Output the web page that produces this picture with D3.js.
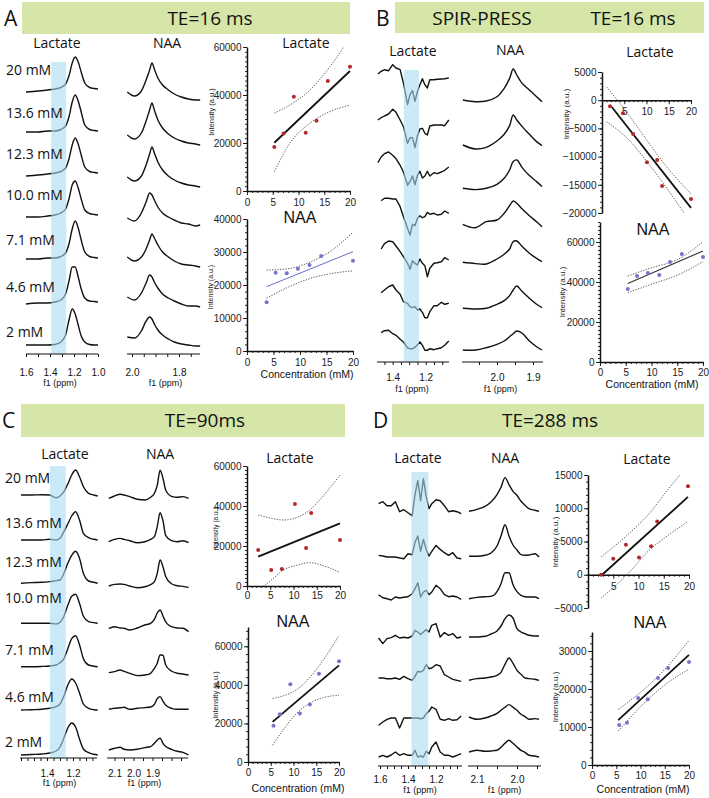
<!DOCTYPE html>
<html>
<head>
<meta charset="utf-8">
<title>Lactate and NAA phantom spectra at different TE</title>
<script src="https://d3js.org/d3.v7.min.js"></script>
<style>
  body { margin: 0; background: #fff; }
  svg { display: block; }
</style>
</head>
<body>
<svg id="fig"></svg>
<script>
// ---------- labels ----------
const concLabels = ["20 mM", "13.6 mM", "12.3 mM", "10.0 mM", "7.1 mM", "4.6 mM", "2 mM"];
const bannerA = ["TE=16 ms"];
const bannerB = ["SPIR-PRESS", "TE=16 ms"];
const bannerC = ["TE=90ms"];
const bannerD = ["TE=288 ms"];

// ---------- spectra (ppm grid + trace heights above each baseline) ----------
// A, TE=16 ms
const aLacPpm = [1.60, 1.50, 1.42, 1.36, 1.31, 1.27, 1.24, 1.215, 1.19, 1.165, 1.14, 1.11, 1.07, 1.03, 1.00];
const aLacTraces = [
  [-3, -2, -1, 0, 1.5, 5, 14, 26, 32, 27, 17, 6, 1.5, 0.5, 0],
  [-1, -1, 0, 0, 1.5, 5, 15, 29, 36, 30, 19, 6, 1.5, 0.5, 0],
  [-3, -2, -1, 0, 1.5, 5, 15, 28, 35, 29, 18, 6, 1.5, 0.5, 0],
  [-2, -2, -1, 0, 2, 6, 17, 30, 34, 27, 16, 5, 1.5, 0.5, 0],
  [-1, -1, 0, 0, 1.5, 5, 15, 29, 37, 30, 18, 6, 1.5, 0.5, 0],
  [-2, -1, -1, 0, 2, 8, 22, 35, 35, 25, 13, 4, 1, 0.5, 0],
  [0, 0, 0, 0.5, 3, 10, 26, 36, 31, 20, 9, 3, 0.5, 0, 0]
];
const aNaaPpm = [2.02, 1.99, 1.96, 1.94, 1.925, 1.915, 1.905, 1.89, 1.87, 1.845, 1.82, 1.79, 1.76, 1.73, 1.71];
const aNaaTraces = [
  [8, 4, 9, 20, 30, 37, 31, 22, 15, 10, 6, 3, 1, 0, 0],
  [10, 6, 12, 24, 35, 42, 35, 25, 17, 11, 7, 4, 2, 1, 0],
  [10, 6, 11, 22, 33, 40, 34, 25, 17, 11, 7, 4, 2, 1, 0],
  [8, 5, 13, 24, 33, 31, 26, 19, 13, 9, 6, 3, 2, 0, 1],
  [10, 6, 10, 18, 27, 33, 29, 22, 15, 10, 6, 3, 2, 1, 0],
  [10, 7, 14, 24, 32, 30, 25, 19, 13, 9, 6, 3, 1, 1, 0],
  [9, 8, 15, 25, 29, 27, 22, 16, 11, 7, 4, 2, 1, 0, 0]
];

// B, SPIR-PRESS TE=16 ms
const bLacPpm = [1.49, 1.47, 1.45, 1.425, 1.40, 1.38, 1.355, 1.335, 1.31, 1.295, 1.28, 1.265, 1.25, 1.235, 1.22, 1.205, 1.19, 1.175, 1.15, 1.13, 1.105, 1.085, 1.06];
const bLacTraces = [
  [4, 6.7, 8.3, 7.3, 13.3, 10, 8.3, -5, -26.7, -16.7, -12.7, -23.3, -13.3, -6.7, -0.7, -6.7, -10, -1.7, -1.7, -1.3, -1, -0.7, 0],
  [5, 7.3, 9, 11, 15.7, 12.7, 5, -1.7, -18.3, -12.7, -12.7, -22.7, -10.7, -4, -3.3, -8.3, -10, -1, 0, 0, 0, -0.7, 5],
  [9.3, 15, 18.3, 20, 16.7, 13.3, 6.7, 0, -13.3, -9.3, -4, -12.7, -3.3, 0.7, -6, -4, 0.7, -4, -0.7, -1.7, 0, 1.7, 5],
  [null, 14.3, 16.7, 16.7, 16, 16, 8.3, -1.7, -13.3, -20, -9.3, -10.7, -3.3, -0.7, -2.7, -1.7, 2.7, 0.7, 1.7, 0, 0.7, 4, 1.7],
  [null, 11, 16.3, 19, 18.3, 14, 8.3, 3.3, -3.3, -9.3, -0.7, -3.3, -5, 1, -3.3, -5.7, -16.7, -8.3, -3.3, -2.7, -1.7, 2.3, 0],
  [null, 12.3, 15, 18.3, 20, 15, 10.7, 3.3, 1.7, -1.7, -2.7, -1.7, -5, -4, -7.3, -12.7, -12.7, -6.7, -0.7, -0.7, 2.7, 0.7, 1.7],
  [null, 14.3, 16.3, 16.7, 13.3, 11.7, 7.7, 5, -1, -1.7, -1.7, -0.3, 2.3, 5, 1.7, -3.3, -3.3, -1.7, -2.7, -1.7, -0.7, 1.7, 6]
];
const bNaaPpm = [2.095, 2.06, 2.03, 2.00, 1.98, 1.965, 1.955, 1.945, 1.93, 1.91, 1.89, 1.875];
const bNaaTraces = [
  [1.7, 0, 0.7, 5, 13.3, 23.3, 32.7, 26.7, 18.3, 11.7, 5, 0],
  [3.3, -0.7, 1, 7.3, 14, 22.7, 33.3, 28.3, 21.7, 14, 6.7, 2.7],
  [0, -1.3, 0, 4, 10, 18.3, 26.7, 28.3, 20.7, 12.7, 6.7, 1.7],
  [0.7, -2.7, 3.3, 5, 11.7, 19.3, 24, 21.7, 16, 9.3, 3.3, -1.7],
  [0, -1.3, -1.7, 3.3, 8, 13.3, 20.7, 21.3, 15.7, 9, 4, 0.7],
  [0, -0.7, 0, 4, 7.7, 12.7, 18.3, 22.3, 16.7, 10, 4, 0.7],
  [0, 0, 2.3, 5.7, 9, 13.3, 16.3, 19, 16.7, 9, 3.3, 0]
];

// C, TE=90 ms
const cLacPpm = [1.60, 1.52, 1.44, 1.38, 1.33, 1.30, 1.27, 1.24, 1.21, 1.18, 1.15, 1.12, 1.08, 1.04, 1.01];
const cLacTraces = [
  [0, 0, 0.3, 0, -2.7, -1, 3.3, 11, 20, 25, 18.3, 8.3, 1.7, 0, -1],
  [0, 0, 0, 0.7, 0, 1.7, 8.3, 16, 24, 28.3, 20, 6.7, 2.3, 0.7, 0],
  [0, 0.7, 1, 1.7, 2.7, 3.3, 10, 20, 28, 32, 25, 10, 2.3, 1, 0],
  [0, 0, 0, 0, -0.7, 1, 7, 18, 27, 29, 20, 7, 1.7, 0.7, 0],
  [0, 0, 0.3, 0.7, 1.7, 4, 8, 18, 28, 31, 22, 8, 1.7, 0.5, 0],
  [0, 0.3, 0.7, 1.7, 3.3, 6, 14, 25, 31, 27, 17, 6, 1.7, 0.3, 0],
  [0, 0.5, 1, 2, 4, 8, 17, 27, 32, 28, 16, 6, 2.3, 0.7, 0]
];
const cNaaPpm = [2.13, 2.10, 2.07, 2.05, 2.02, 1.98, 1.94, 1.91, 1.89, 1.875, 1.86, 1.845, 1.83, 1.80, 1.77, 1.74, 1.71];
const cNaaTraces = [
  [0, 2.3, 4, 3.3, 1.7, -1, -1.7, 1, 5, 13, 28, 20, 8, 2, 1, 1.7, 0],
  [1, 3.3, 4.3, 3.3, 2, 0, 1, 3.3, 6, 16, 30, 22, 7, 2, 1, 2, 0],
  [0.7, 2.3, 2.7, 2.3, 0.7, -1, 0, 2, 5, 13.3, 26.7, 20, 10, 3, 1, 0.3, -0.7],
  [1.7, 3.3, 2, 1.7, 0, 2, 5, 6.7, 10.7, 17, 20, 14, 8, 3.3, 2, 1.7, -1.7],
  [0.7, 1.7, 3.3, 2, 0, -2.3, -1.7, 0, 5, 10, 18.3, 18, 8, 2.3, 0, -0.7, -1.7],
  [0, 1, 1.5, 2, 0, 1, 1.7, 2.3, 5, 10.7, 12.7, 8, 4, 1, 0, 0, 0],
  [3.3, 5, 6, 4, 3.3, 4, 5.7, 6.7, 10, 13.3, 15, 10, 6.7, 4, 2, 1, -1.7]
];

// D, TE=288 ms
const dLacPpm = [1.61, 1.58, 1.55, 1.52, 1.49, 1.46, 1.43, 1.40, 1.37, 1.35, 1.33, 1.31, 1.29, 1.27, 1.25, 1.23, 1.20, 1.17, 1.14, 1.11, 1.08, 1.05, 1.02];
const dLacTraces = [
  [5, 7, 3, 3, 7, -3, -1, -4, -7, 14, 28, 8, 30, 12, 0, 5, 9, 8, 3, -3, -2, -3, -5],
  [3.3, 2.7, 1.7, 1.7, 1.7, 0.7, 0, 5, 4, 16.7, 22.7, 7.3, 19.3, 9.3, 2.7, 7.3, 13.3, 9.3, 6, 3.3, 6, 0.7, 0],
  [3.3, 0.3, -0.7, -2, 1, 0, 0.7, 1.3, 4.3, 9.3, 15.3, 1, 6, 7.7, 3.3, 6, 12.7, 9.3, 3.3, 1.3, 2, 1, -1.3],
  [-2.7, -8.3, -3.3, -2.3, 0, -2.7, -2, -2.7, -0.7, 5, 3.3, 0.7, 3.3, 5.7, 3.3, 10, 11.7, -1.7, 2.7, 0, 1.7, -2.7, -1.7],
  [0.7, 0.7, 0, 0, 0.7, -0.7, 2.3, 0, -1.7, 2.3, 7.3, 6.7, 8.3, 14, 10, 10.7, 14, 12.7, 4, 1.7, -0.7, -1.7, -2.7],
  [-7.3, -4, -1.3, 0, 0, -10, 0, 0, 0, 0, 0, -0.7, 0, 4.3, 6.7, 11, 8.7, -1.3, -2.3, -0.7, -2.3, -1.7, 2],
  [0, 1.7, 0, 2, 5, 1.7, 3.3, 1.7, 1.7, 6.7, 0, 1, 0, 5.7, 3.3, 10, 15, 5, 1.7, 1.7, 0, 1.7, 3.3]
];
const dNaaPpm = [2.12, 2.10, 2.08, 2.065, 2.05, 2.04, 2.03, 2.02, 2.01, 2.00, 1.99, 1.98, 1.97, 1.955, 1.945];
const dNaaTraces = [
  [0, 2, 5, 9.3, 16.7, 24, 33.7, 26.7, 20, 16, 10, 6, 2.7, 1, 0],
  [0.7, 0.7, 1.7, 4, 11, 21, 32.3, 21, 12, 7, 2.3, 1.7, 2, 3.3, 0],
  [0, 1.3, 2, 2.3, 7, 15, 26, 26, 14, 7, 3.3, 2, 1.7, 1.7, 0],
  [0, 0, 0.7, 3, 6, 11, 18.3, 22, 19, 8.3, 5, 3.3, 1.7, 1, 1],
  [0, 1.7, 2.3, 3.3, 5, 8, 16, 22.3, 17, 10, 6, 2.3, 1.7, 1, 0],
  [2.3, 0, 1.3, 3.3, 6, 9, 12, 14.7, 12, 9, 5, 2.7, 0, 0.7, 0],
  [3.3, 5, 4, 4.3, 5, 8, 12, 15, 12, 8.3, 5, 3, 0, -0.7, -1.7]
];

// ---------- regression plots: concentration (mM) vs intensity (a.u.) ----------
const aLacConc = [5.3, 7.1, 9.1, 11.4, 13.5, 15.7, 20];
const aLacInt = [18300, 24000, 39300, 24300, 29300, 45800, 51800];
const aLacFit = [[5.3, 20100], [20, 50000]];
const aLacCiConc = [5.3, 8.3, 12.2, 16, 20];
const aLacCiUp = [32400, 35800, 42000, 51500, 64000];
const aLacCiLo = [8000, 19900, 28200, 33000, 35800];

const aNaaConc = [3.7, 5.4, 7.5, 9.6, 11.8, 14.0, 20];
const aNaaInt = [14750, 23700, 23550, 24950, 26050, 28800, 27350];
const aNaaFit = [[3.7, 19500], [20, 30100]];
const aNaaCiConc = [3.7, 8, 12, 16, 20];
const aNaaCiUp = [24500, 25000, 27000, 30500, 36000];
const aNaaCiLo = [16000, 19500, 22000, 23500, 24300];

const bLacConc = [1.8, 4.7, 7.0, 10.1, 12.4, 13.5, 20];
const bLacInt = [-1060, -2300, -6000, -11000, -10600, -15200, -17500];
const bLacFit = [[2.2, -1200], [20, -19100]];
const bLacCiConc = [1, 6, 10, 14, 20];
const bLacCiUp = [2400, -2600, -7000, -11300, -16600];
const bLacCiLo = [-3800, -7000, -10800, -15000, -21800];

const bNaaConc = [5.4, 7.2, 9.3, 11.5, 13.6, 15.9, 20];
const bNaaInt = [36500, 43000, 44500, 43500, 50000, 54000, 52500];
const bNaaFit = [[5.4, 39300], [20, 55500]];
const bNaaCiConc = [5.4, 9.6, 15.5, 20];
const bNaaCiUp = [43000, 46800, 51800, 60200];
const bNaaCiLo = [34700, 38500, 44000, 50200];

const cLacConc = [2.4, 5.2, 7.5, 10.3, 12.7, 13.8, 20];
const cLacInt = [18000, 8000, 8500, 41000, 19000, 36500, 23000];
const cLacFit = [[2.4, 14700], [20, 31300]];
const cLacCiConc = [2.4, 5, 7.8, 11, 13.5, 16, 20];
const cLacCiUp = [35500, 34000, 33000, 34500, 38000, 44000, 55500];
const cLacCiLo = [-2000, 2500, 8000, 10500, 11700, 10500, 6700];

const cNaaConc = [5.6, 7.0, 9.3, 11.4, 13.6, 15.6, 20];
const cNaaInt = [18800, 24800, 40300, 25200, 29800, 45800, 52200];
const cNaaFit = [[5.4, 20800], [20, 50100]];
const cNaaCiConc = [5.4, 8, 10, 12, 14, 16, 18, 20];
const cNaaCiUp = [32900, 34500, 36500, 40000, 45000, 51000, 58000, 65600];
const cNaaCiLo = [8700, 17500, 23500, 28000, 31000, 33000, 34100, 34600];

const dLacConc = [2.6, 5.0, 7.5, 10.1, 12.5, 13.7, 19.8];
const dLacInt = [0, 2400, 4500, 2600, 4300, 8000, 13300];
const dLacFit = [[2.8, 0], [19.8, 11700]];
const dLacCiConc = [2.6, 7.7, 12, 16, 19.8];
const dLacCiUp = [2700, 5900, 9100, 13000, 16400];
const dLacCiLo = [-3500, 0, 3600, 6000, 8000];

const dNaaConc = [5.6, 7.2, 9.5, 11.5, 13.6, 15.7, 20];
const dNaaInt = [10500, 11100, 17600, 17300, 22900, 25500, 27100];
const dNaaFit = [[5.4, 11800], [20, 29000]];
const dNaaCiConc = [5.4, 9, 12.7, 16, 20];
const dNaaCiUp = [14600, 18100, 22200, 26600, 32800];
const dNaaCiLo = [8900, 14000, 18600, 22000, 25200];

// ---------- drawing ----------
const W = 709, H = 798;
const LABEL_FONT = "'Open Sans', 'Noto Sans', sans-serif";
const AXIS_FONT = "'Liberation Sans', Arial, sans-serif";
const NARROW_FONT = "'Liberation Sans Narrow', 'DejaVu Sans Condensed', 'Liberation Sans', sans-serif";
const RED = "#b3282d";
const BLUE = "#7474cc";
const INK = "#111";

const svg = d3.select("#fig").attr("width", W).attr("height", H)
  .style("font-family", LABEL_FONT);

function txt(x, y, s, size, opts = {}) {
  return svg.append("text")
    .attr("x", x).attr("y", y)
    .attr("text-anchor", opts.anchor || "middle")
    .attr("font-size", size)
    .attr("font-family", opts.font || LABEL_FONT)
    .attr("fill", opts.fill || INK)
    .text(s);
}

// panel letters + green banners
function banner(letter, lx, ly, bx, by, bw, bh, words, wordX, wordY) {
  svg.append("rect").attr("x", bx).attr("y", by).attr("width", bw).attr("height", bh).attr("fill", "#d5e6a8");
  txt(lx, ly, letter, 21, { anchor: "start" });
  words.forEach((w, i) => txt(wordX[i], wordY, w, 19));
}
banner("A", 4, 26, 22, 2, 328, 32, bannerA, [210], 25);
banner("B", 376, 26, 395, 2, 309, 31, bannerB, [482, 633], 25);
banner("C", 2, 428, 21, 404, 324, 33, bannerC, [205], 427);
banner("D", 373, 428, 392, 404, 312, 33, bannerD, [550], 427);

// stacked spectra
function drawSpectra(c) {
  const x = d3.scaleLinear().domain(c.anchorPpm).range(c.anchorPx);
  const amp = d3.scaleLinear().domain([0, 1]).range([0, -1]);
  const line = d3.line()
    .defined(d => d.v !== null)
    .x(d => x(d.p))
    .y(d => amp(d.v))
    .curve(c.curve);
  const g = svg.append("g");
  c.traces.forEach((vals, i) => {
    g.append("path")
      .datum(c.ppm.map((p, j) => ({ p: p, v: vals[j] })))
      .attr("transform", `translate(0,${c.base[i]})`)
      .attr("d", line)
      .attr("fill", "none")
      .attr("stroke", INK)
      .attr("stroke-width", 1.4)
      .attr("stroke-linejoin", "round");
  });
  if (c.band) {
    g.append("rect")
      .attr("x", x(c.band[0]))
      .attr("width", x(c.band[1]) - x(c.band[0]))
      .attr("y", c.bandTop)
      .attr("height", c.axisY - c.bandTop)
      .attr("fill", "#a8dcf3")
      .attr("opacity", 0.6);
  }
  const hi = x.invert(c.extent[0]), lo = x.invert(c.extent[1]);
  const ticks = d3.range(Math.ceil(lo / c.tickStep - 1e-6), Math.floor(hi / c.tickStep + 1e-6) + 1)
    .map(k => +(k * c.tickStep).toFixed(3));
  const isLabel = d => c.labels.some(l => Math.abs(l - d) < 1e-6);
  const ax = g.append("g")
    .attr("transform", `translate(0,${c.axisY})`)
    .attr("font-family", c.tickFont)
    .attr("font-size", c.tickSize)
    .call(d3.axisBottom(x).tickValues(ticks).tickSize(3).tickSizeOuter(0)
      .tickFormat(d => isLabel(d) ? d3.format(".1f")(d) : ""));
  ax.select(".domain").remove();
  ax.append("line").attr("x1", c.extent[0]).attr("x2", c.extent[1])
    .attr("stroke", INK).attr("stroke-width", 1.2);
  ax.selectAll(".tick line").attr("stroke", INK);
  ax.selectAll(".tick text").attr("y", c.labelY - c.axisY).attr("dy", 0).attr("fill", INK);
  txt((c.extent[0] + c.extent[1]) / 2 + c.f1dx, c.f1Y, "f1 (ppm)", 9, { font: AXIS_FONT });
}

const smooth = d3.curveMonotoneX;
drawSpectra({ ppm: aLacPpm, traces: aLacTraces, anchorPpm: [1.6, 1.0], anchorPx: [26, 98], extent: [26, 98],
  base: [89, 131, 173, 215, 258, 302, 345], axisY: 354, tickStep: 0.1, labels: [1.6, 1.4, 1.2, 1.0],
  labelY: 376, tickFont: NARROW_FONT, tickSize: 12, f1Y: 386, f1dx: -2, band: [1.39, 1.265], bandTop: 62, curve: smooth });
drawSpectra({ ppm: aNaaPpm, traces: aNaaTraces, anchorPpm: [2.0, 1.8], anchorPx: [132, 179], extent: [127, 200],
  base: [100, 145, 187, 226, 267, 307, 346], axisY: 354, tickStep: 0.05, labels: [2.0, 1.8],
  labelY: 376, tickFont: NARROW_FONT, tickSize: 12, f1Y: 386, f1dx: 2, curve: smooth });

drawSpectra({ ppm: bLacPpm, traces: bLacTraces, anchorPpm: [1.4, 1.2], anchorPx: [392.7, 425.7], extent: [377, 449],
  base: [78, 125, 172, 215, 260, 305, 347], axisY: 362, tickStep: 0.05, labels: [1.4, 1.2],
  labelY: 381, tickFont: AXIS_FONT, tickSize: 11, f1Y: 392, f1dx: -1, band: [1.333, 1.241], bandTop: 70, curve: d3.curveLinear });
drawSpectra({ ppm: bNaaPpm, traces: bNaaTraces, anchorPpm: [2.0, 1.9], anchorPx: [497, 533], extent: [462, 543],
  base: [101.7, 148.3, 188.3, 225, 262.3, 308.3, 350], axisY: 362, tickStep: 0.05, labels: [2.0, 1.9],
  labelY: 381, tickFont: AXIS_FONT, tickSize: 11, f1Y: 392, f1dx: -2, curve: d3.curveCatmullRom.alpha(0.5) });

drawSpectra({ ppm: cLacPpm, traces: cLacTraces, anchorPpm: [1.4, 1.2], anchorPx: [47, 73], extent: [20, 97],
  base: [495, 540, 583.3, 623.3, 666.7, 710, 755], axisY: 758, tickStep: 0.05, labels: [1.4, 1.2],
  labelY: 777, tickFont: AXIS_FONT, tickSize: 11, f1Y: 786, f1dx: 1, band: [1.377, 1.256], bandTop: 466, curve: smooth });
drawSpectra({ ppm: cNaaPpm, traces: cNaaTraces, anchorPpm: [2.1, 1.9], anchorPx: [114.5, 152.5], extent: [107, 188],
  base: [498.3, 542.7, 586.7, 630, 673.3, 709.3, 753.3], axisY: 758, tickStep: 0.05, labels: [2.1, 2.0, 1.9],
  labelY: 777, tickFont: AXIS_FONT, tickSize: 11, f1Y: 786, f1dx: -3, curve: smooth });

drawSpectra({ ppm: dLacPpm, traces: dLacTraces, anchorPpm: [1.6, 1.2], anchorPx: [380, 436], extent: [378, 462],
  base: [508.7, 558.7, 598, 635.3, 678.7, 718, 757], axisY: 766, tickStep: 0.05, labels: [1.6, 1.4, 1.2],
  labelY: 783, tickFont: AXIS_FONT, tickSize: 11, f1Y: 793, f1dx: 0, band: [1.375, 1.255], bandTop: 472, curve: d3.curveLinear });
drawSpectra({ ppm: dNaaPpm, traces: dNaaTraces, anchorPpm: [2.1, 2.0], anchorPx: [477, 517], extent: [468, 541],
  base: [511.3, 557, 598.7, 637, 680.3, 719.3, 755.3], axisY: 766, tickStep: 0.05, labels: [2.1, 2.0],
  labelY: 783, tickFont: AXIS_FONT, tickSize: 11, f1Y: 793, f1dx: 0, curve: smooth });

// column headers over spectra
[[57, 48, "Lactate"], [167, 48, "NAA"], [413, 56, "Lactate"], [510, 55, "NAA"],
 [65, 459, "Lactate"], [160, 459, "NAA"], [418, 463, "Lactate"], [505, 463, "NAA"]]
  .forEach(h => txt(h[0], h[1], h[2], 14));

// concentration labels (panels A and C)
const concBaseA = [75, 118, 159, 200, 245, 292, 337];
const concBaseC = [483, 528, 567, 603, 655, 702, 747];
concLabels.forEach((s, i) => {
  txt(6, concBaseA[i], s, 14, { anchor: "start" });
  txt(5, concBaseC[i], s, 14, { anchor: "start" });
});

// regression plots
let clipCount = 0;
function drawScatter(c) {
  const x = d3.scaleLinear().domain([0, 20]).range([c.x0, c.x1]);
  const y = d3.scaleLinear().domain(c.yDom).range([c.yBot, c.yTop]);
  const g = svg.append("g");
  const id = "clip" + (clipCount++);
  g.append("clipPath").attr("id", id).append("rect")
    .attr("x", c.x0).attr("y", c.yTop).attr("width", c.x1 - c.x0 + 2).attr("height", c.yBot - c.yTop);

  const yMinor = d3.range(c.yDom[0], c.yDom[1] + 1, c.yMinor);
  const yMajor = yMinor.filter(v => v % c.yMajor === 0);
  const fmt = d3.format("d");

  const yMinAx = g.append("g").attr("transform", `translate(${c.x0},0)`)
    .call(d3.axisLeft(y).tickValues(yMinor).tickSize(2).tickFormat(""));
  yMinAx.select(".domain").remove();
  const yAx = g.append("g").attr("transform", `translate(${c.x0},0)`)
    .attr("font-family", AXIS_FONT).attr("font-size", c.tickFs)
    .call(d3.axisLeft(y).tickValues(yMajor).tickSize(4).tickSizeOuter(0).tickPadding(1.5).tickFormat(fmt));

  const xAt = y(0);
  const xMinAx = g.append("g").attr("transform", `translate(0,${xAt})`)
    .call(d3.axisBottom(x).tickValues(d3.range(0, 21)).tickSize(2).tickFormat(""));
  xMinAx.select(".domain").remove();
  const xAx = g.append("g").attr("transform", `translate(0,${xAt})`)
    .attr("font-family", AXIS_FONT).attr("font-size", c.tickFs)
    .call(d3.axisBottom(x).tickValues([0, 5, 10, 15, 20]).tickSize(4).tickSizeOuter(0).tickPadding(2)
      .tickFormat(d => c.xLabels.includes(d) ? fmt(d) : ""));
  xAx.selectAll(".tick text").attr("y", c.xLabY - xAt).attr("dy", 0);

  [yMinAx, yAx, xMinAx, xAx].forEach(a => {
    a.selectAll(".tick line").attr("stroke", INK).attr("stroke-width", 0.9);
    a.selectAll(".tick text").attr("fill", "#222");
    a.select(".domain").attr("stroke", INK).attr("stroke-width", 1.5);
  });

  const ciLine = d3.line().x(d => x(d[0])).y(d => y(d[1])).curve(d3.curveMonotoneX);
  const body = g.append("g").attr("clip-path", `url(#${id})`);
  [c.ciUp, c.ciLo].forEach(vals => {
    body.append("path")
      .attr("d", ciLine(c.ciConc.map((k, i) => [k, vals[i]])))
      .attr("fill", "none").attr("stroke", "#333").attr("stroke-width", 0.8)
      .attr("stroke-dasharray", "1.3,1.4");
  });
  body.append("path")
    .attr("d", d3.line().x(d => x(d[0])).y(d => y(d[1]))(c.fit))
    .attr("fill", "none").attr("stroke", c.fitColor).attr("stroke-width", c.fitW);

  g.selectAll("circle.pt").data(c.conc.map((k, i) => [k, c.vals[i]])).join("circle")
    .attr("class", "pt")
    .attr("cx", d => x(d[0])).attr("cy", d => y(d[1])).attr("r", 2)
    .attr("fill", c.color);

  txt(c.titleX, c.titleY, c.title, c.titleFs, { font: c.title === "NAA" ? AXIS_FONT : LABEL_FONT });
  svg.append("text")
    .attr("transform", `translate(${c.ylabX},${c.ylabY}) rotate(-90)`)
    .attr("text-anchor", "middle").attr("font-family", AXIS_FONT)
    .attr("font-size", c.ylabFs).attr("fill", "#222")
    .text("Intensity (a.u.)");
  if (c.xTitle) txt(c.xTitle[0], c.xTitle[1], "Concentration (mM)", 10.5, { font: AXIS_FONT });
}

const all = [0, 5, 10, 15, 20], noZero = [5, 10, 15, 20];
drawScatter({ x0: 247, x1: 350, yTop: 47, yBot: 191, yDom: [0, 60000], yMajor: 20000, yMinor: 2000,
  xLabels: all, tickFs: 6, xLabY: 206, title: "Lactate", titleX: 306, titleY: 48, titleFs: 14,
  ylabX: 214, ylabY: 112, ylabFs: 7.5, conc: aLacConc, vals: aLacInt, fit: aLacFit,
  ciConc: aLacCiConc, ciUp: aLacCiUp, ciLo: aLacCiLo, color: RED, fitColor: INK, fitW: 1.8 });
drawScatter({ x0: 247, x1: 353, yTop: 219, yBot: 351, yDom: [0, 40000], yMajor: 10000, yMinor: 2000,
  xLabels: all, tickFs: 6, xLabY: 366, title: "NAA", titleX: 300, titleY: 223, titleFs: 16,
  ylabX: 213, ylabY: 287, ylabFs: 7, xTitle: [307, 378], conc: aNaaConc, vals: aNaaInt, fit: aNaaFit,
  ciConc: aNaaCiConc, ciUp: aNaaCiUp, ciLo: aNaaCiLo, color: BLUE, fitColor: "#6b6bcc", fitW: 1 });

drawScatter({ x0: 602, x1: 691, yTop: 72, yBot: 213, yDom: [-20000, 5000], yMajor: 5000, yMinor: 1000,
  xLabels: noZero, tickFs: 6.5, xLabY: 115, title: "Lactate", titleX: 650, titleY: 57, titleFs: 14,
  ylabX: 569, ylabY: 114, ylabFs: 8, conc: bLacConc, vals: bLacInt, fit: bLacFit,
  ciConc: bLacCiConc, ciUp: bLacCiUp, ciLo: bLacCiLo, color: RED, fitColor: INK, fitW: 1.8 });
drawScatter({ x0: 600, x1: 703, yTop: 222, yBot: 362, yDom: [0, 70000], yMajor: 20000, yMinor: 2000,
  xLabels: all, tickFs: 7.5, xLabY: 376, title: "NAA", titleX: 653, titleY: 235, titleFs: 16,
  ylabX: 565, ylabY: 292, ylabFs: 8, xTitle: [652, 388], conc: bNaaConc, vals: bNaaInt, fit: bNaaFit,
  ciConc: bNaaCiConc, ciUp: bNaaCiUp, ciLo: bNaaCiLo, color: BLUE, fitColor: "#333", fitW: 1.1 });

drawScatter({ x0: 247, x1: 340, yTop: 466, yBot: 586, yDom: [0, 60000], yMajor: 20000, yMinor: 2000,
  xLabels: all, tickFs: 4.5, xLabY: 599, title: "Lactate", titleX: 290, titleY: 463, titleFs: 14,
  ylabX: 218, ylabY: 528, ylabFs: 6.5, conc: cLacConc, vals: cLacInt, fit: cLacFit,
  ciConc: cLacCiConc, ciUp: cLacCiUp, ciLo: cLacCiLo, color: RED, fitColor: INK, fitW: 1.8 });
drawScatter({ x0: 248, x1: 339, yTop: 627, yBot: 762, yDom: [0, 70000], yMajor: 20000, yMinor: 4000,
  xLabels: all, tickFs: 6.5, xLabY: 776, title: "NAA", titleX: 293, titleY: 627, titleFs: 16,
  ylabX: 218, ylabY: 695, ylabFs: 7.5, xTitle: [298, 792], conc: cNaaConc, vals: cNaaInt, fit: cNaaFit,
  ciConc: cNaaCiConc, ciUp: cNaaCiUp, ciLo: cNaaCiLo, color: BLUE, fitColor: INK, fitW: 1.8 });

drawScatter({ x0: 588, x1: 689, yTop: 475, yBot: 608, yDom: [-5000, 15000], yMajor: 5000, yMinor: 1000,
  xLabels: noZero, tickFs: 6.5, xLabY: 590, title: "Lactate", titleX: 647, titleY: 464, titleFs: 14,
  ylabX: 558, ylabY: 542, ylabFs: 8, conc: dLacConc, vals: dLacInt, fit: dLacFit,
  ciConc: dLacCiConc, ciUp: dLacCiUp, ciLo: dLacCiLo, color: RED, fitColor: INK, fitW: 1.8 });
drawScatter({ x0: 592, x1: 689, yTop: 632, yBot: 765, yDom: [0, 35000], yMajor: 10000, yMinor: 2000,
  xLabels: all, tickFs: 6.5, xLabY: 779, title: "NAA", titleX: 650, titleY: 628, titleFs: 16,
  ylabX: 558, ylabY: 697, ylabFs: 8, xTitle: [643, 793], conc: dNaaConc, vals: dNaaInt, fit: dNaaFit,
  ciConc: dNaaCiConc, ciUp: dNaaCiUp, ciLo: dNaaCiLo, color: BLUE, fitColor: INK, fitW: 1.8 });
</script>
</body>
</html>
